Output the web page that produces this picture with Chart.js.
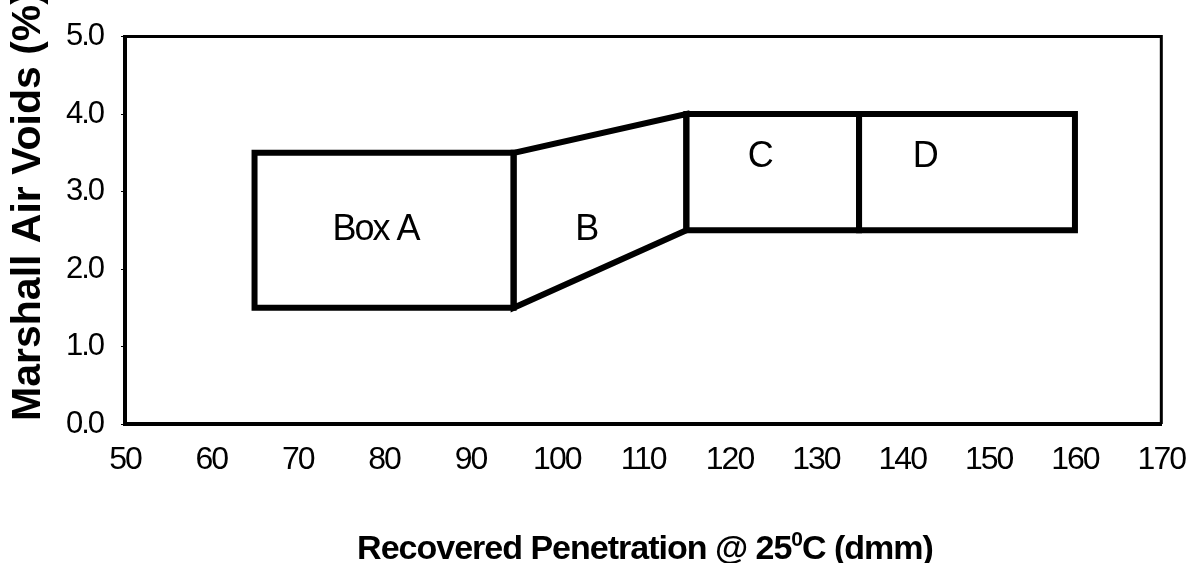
<!DOCTYPE html>
<html>
<head>
<meta charset="utf-8">
<script src="https://cdn.jsdelivr.net/npm/chart.js@4/dist/chart.umd.min.js"></script>
<style>
  html, body { margin: 0; background: #fff; }
  #wrap { width: 1202px; height: 563px; }
</style>
</head>
<body>
<div id="wrap"><canvas id="chart"></canvas></div>
<script>
// box outlines (penetration dmm, air voids %)
const boxAX = [65, 65, 95, 95, 65];
const boxAY = [1.5, 3.5, 3.5, 1.5, 1.5];
const boxBX = [95, 115, 115, 95, 95];
const boxBY = [3.5, 4.0, 2.5, 1.5, 3.5];
const boxCX = [115, 115, 135, 135, 115];
const boxCY = [2.5, 4.0, 4.0, 2.5, 2.5];
const boxDX = [135, 135, 160, 160, 135];
const boxDY = [2.5, 4.0, 4.0, 2.5, 2.5];

const boxLabels = ["Box A", "B", "C", "D"];
const boxLabelX = [79, 103.4, 123.5, 142.6];
const boxLabelY = [2.5, 2.5, 3.45, 3.45];

const xMin = 50, xMax = 170, xStep = 10;
const yMin = 0, yMax = 5, yStep = 1;

const toPoints = (xs, ys) => xs.map((x, i) => ({ x: x, y: ys[i] }));

const mainFont = "'Liberation Sans', Arial, sans-serif";

const outline = (xs, ys) => ({
  data: toPoints(xs, ys),
  showLine: true,
  borderColor: "#000",
  borderWidth: 6,
  borderJoinStyle: "miter",
  borderCapStyle: "square",
  pointRadius: 0,
  fill: false,
  tension: 0,
});

// tighter letter spacing, like the scanned original
const tighten = {
  id: "tighten",
  beforeLayout(chart) { chart.ctx.letterSpacing = "-2px"; },
  beforeDraw(chart) { chart.ctx.letterSpacing = "-2px"; },
};

const extras = {
  id: "extras",
  afterDraw(chart) {
    const ctx = chart.ctx;
    const a = chart.chartArea;
    const sx = chart.scales.x, sy = chart.scales.y;
    ctx.save();

    // top and right frame lines
    ctx.strokeStyle = "#000";
    ctx.lineWidth = 3;
    ctx.beginPath();
    ctx.moveTo(a.left, a.top);
    ctx.lineTo(a.right, a.top);
    ctx.lineTo(a.right, a.bottom);
    ctx.stroke();

    // box labels
    ctx.fillStyle = "#000";
    ctx.letterSpacing = "-2px";
    ctx.font = "36px " + mainFont;
    ctx.textAlign = "center";
    ctx.textBaseline = "middle";
    boxLabels.forEach((t, i) => {
      ctx.fillText(t, sx.getPixelForValue(boxLabelX[i]), sy.getPixelForValue(boxLabelY[i]));
    });

    // y axis title (runs off the top like the original)
    ctx.letterSpacing = "0px";
    ctx.save();
    ctx.translate(29, 206);
    ctx.rotate(-Math.PI / 2);
    ctx.font = "bold 41px " + mainFont;
    ctx.fillText("Marshall Air Voids (%)", 0, 0);
    ctx.restore();

    // x axis title with superscript 0
    ctx.letterSpacing = "-1px";
    const p1 = "Recovered Penetration @ 25", sup = "0", p2 = "C (dmm)";
    const big = "bold 34px " + mainFont, small = "bold 21px " + mainFont;
    ctx.textAlign = "left";
    ctx.textBaseline = "alphabetic";
    ctx.font = big;
    const w1 = ctx.measureText(p1).width, w3 = ctx.measureText(p2).width;
    ctx.font = small;
    const w2 = ctx.measureText(sup).width;
    let x = 645 - (w1 + w2 + w3) / 2;
    const base = 559;
    ctx.font = big;
    ctx.fillText(p1, x, base);
    x += w1;
    ctx.font = small;
    ctx.fillText(sup, x, base - 13);
    x += w2;
    ctx.font = big;
    ctx.fillText(p2, x, base);
    ctx.restore();
  },
};

new Chart(document.getElementById("chart"), {
  type: "scatter",
  data: {
    datasets: [
      outline(boxAX, boxAY),
      outline(boxBX, boxBY),
      outline(boxCX, boxCY),
      outline(boxDX, boxDY),
    ],
  },
  options: {
    responsive: true,
    maintainAspectRatio: false,
    animation: false,
    layout: { padding: { top: 20, right: 36, left: 0, bottom: 0 } },
    plugins: { legend: { display: false }, tooltip: { enabled: false } },
    scales: {
      x: {
        type: "linear",
        min: xMin,
        max: xMax,
        afterFit: (s) => { s.height = 139; },
        grid: { display: false, drawTicks: false },
        border: { display: true, color: "#000", width: 4 },
        ticks: {
          stepSize: xStep,
          color: "#000",
          padding: 17,
          maxRotation: 0,
          font: { family: mainFont, size: 32 },
        },
      },
      y: {
        type: "linear",
        min: yMin,
        max: yMax,
        afterFit: (s) => { s.width = 125; },
        grid: { drawOnChartArea: false, drawTicks: true, tickLength: 4, color: "#000", lineWidth: 1 },
        border: { display: true, color: "#000", width: 4 },
        ticks: {
          stepSize: yStep,
          color: "#000",
          padding: 18,
          font: { family: mainFont, size: 31 },
          callback: (v) => v.toFixed(1),
        },
      },
    },
  },
  plugins: [tighten, extras],
});
</script>
</body>
</html>
